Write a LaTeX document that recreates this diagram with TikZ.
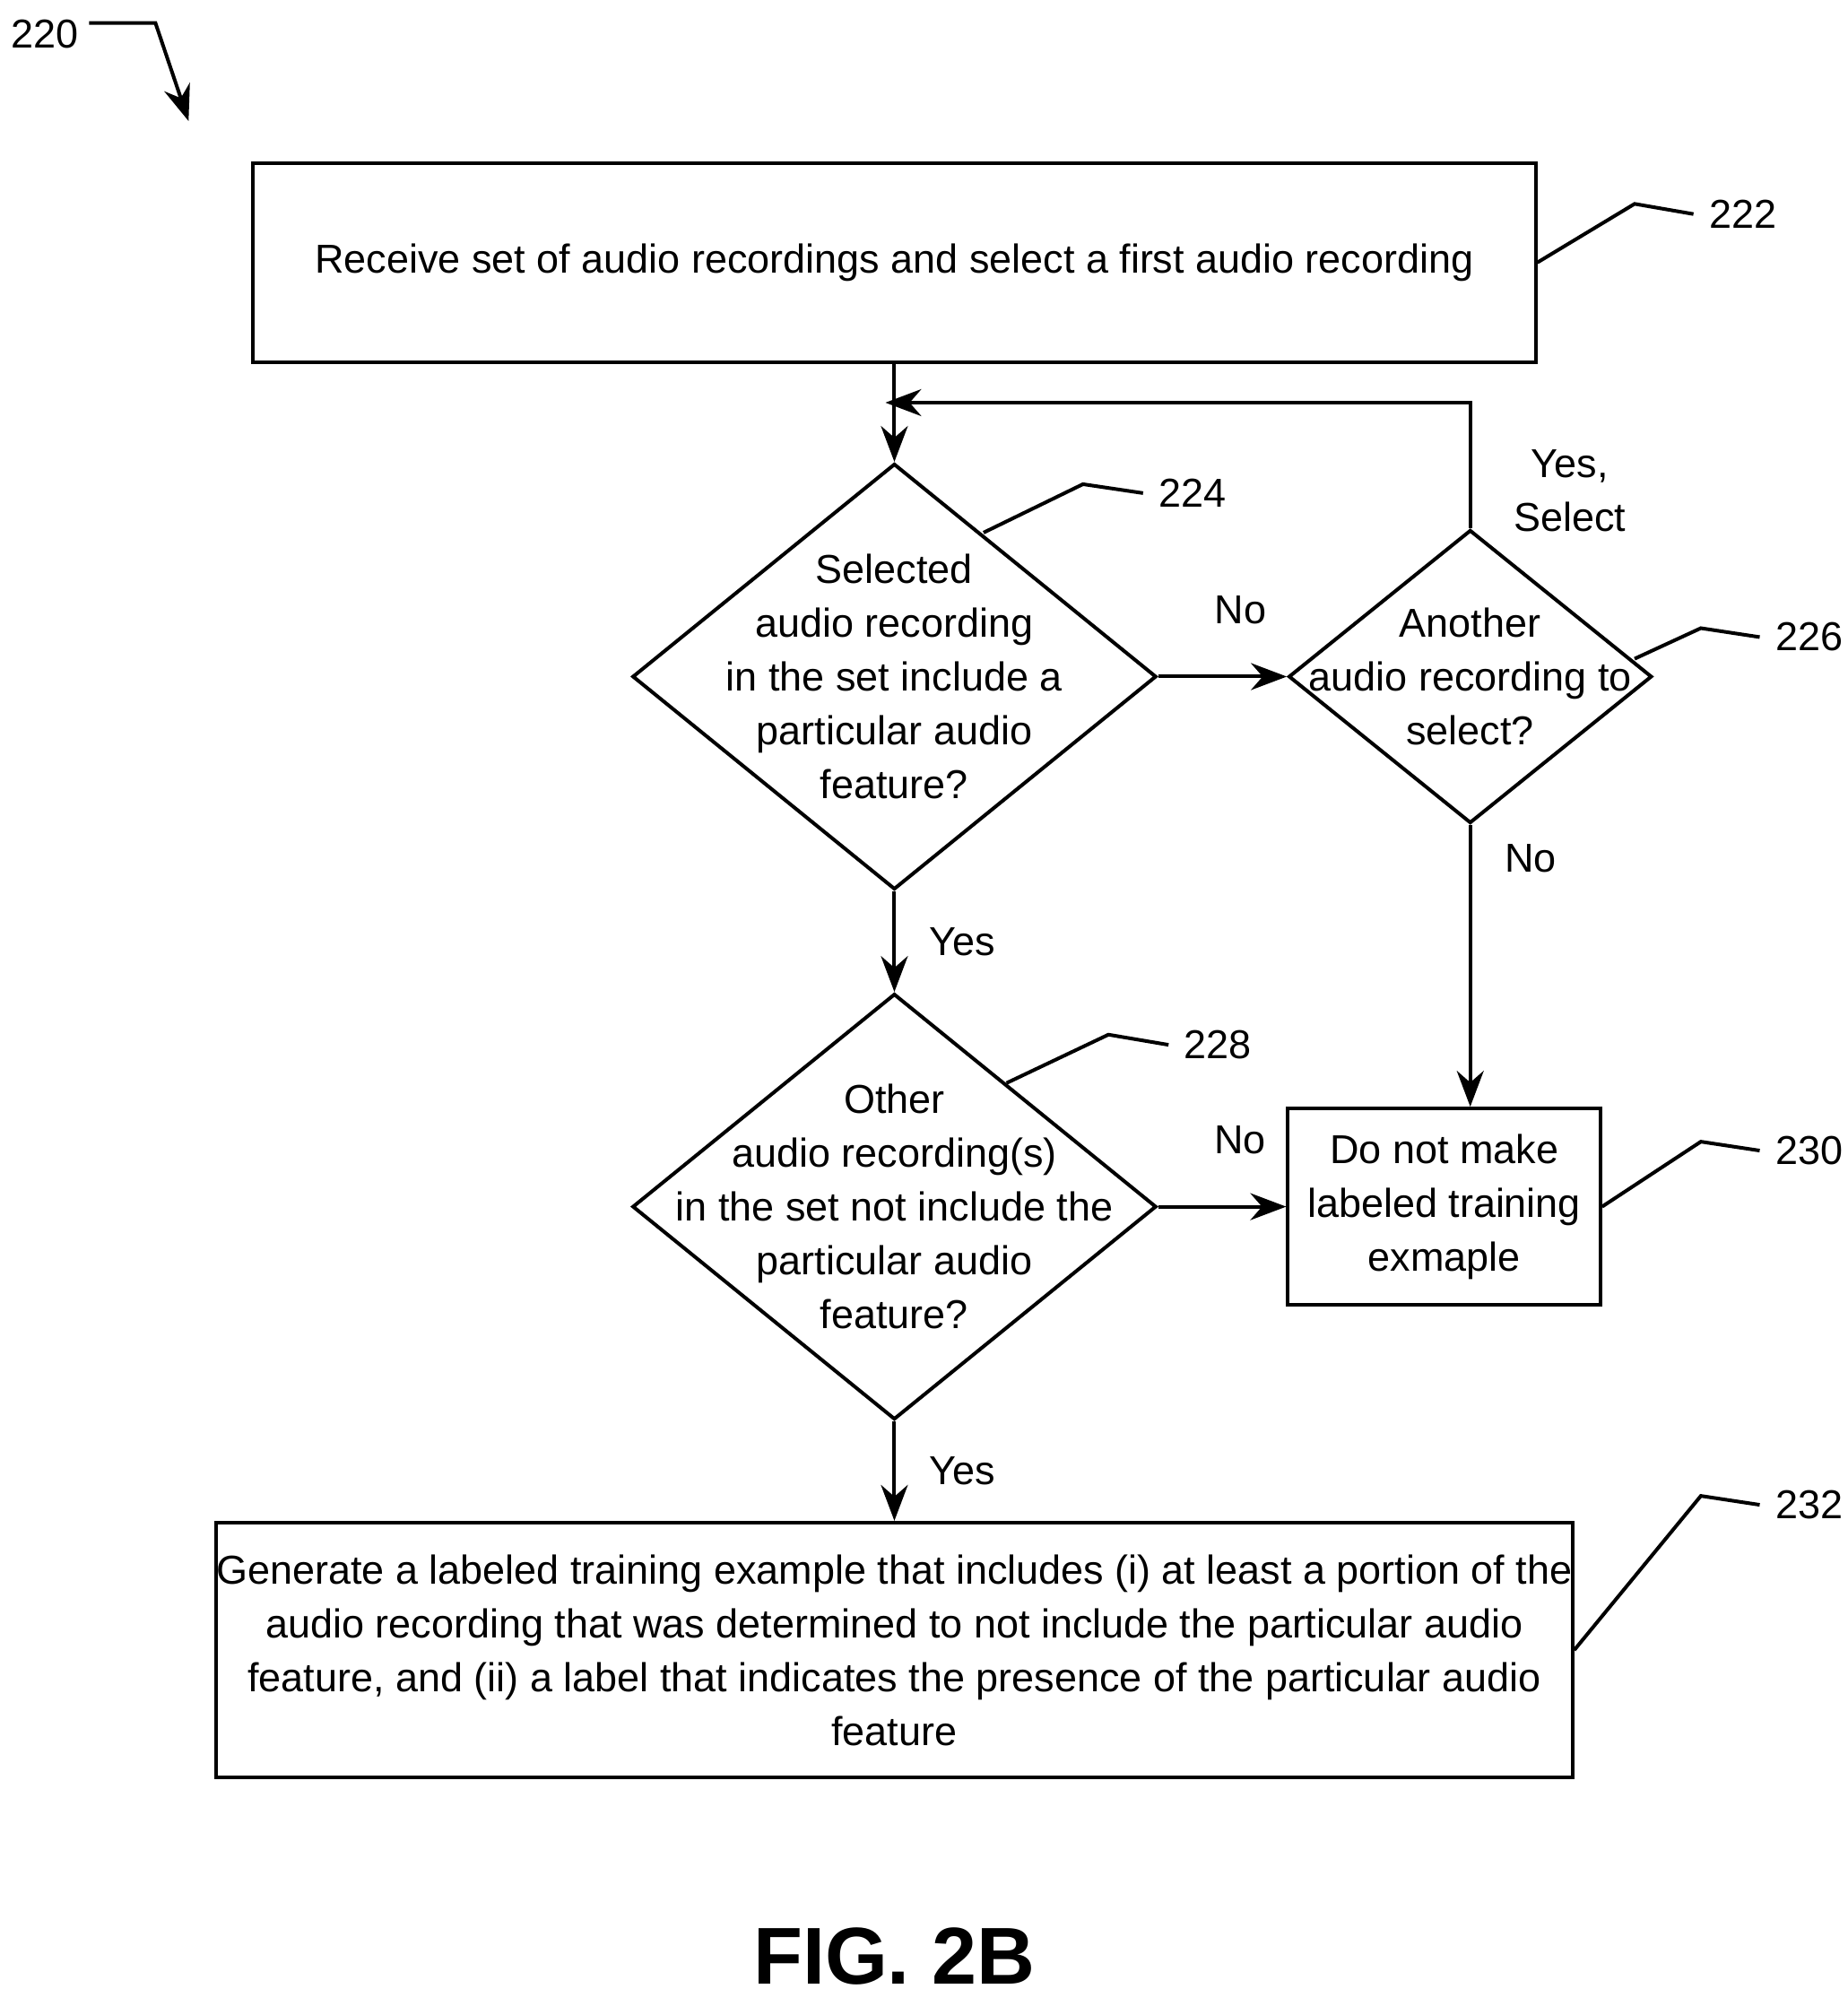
\documentclass[tikz,border=0pt]{standalone}
\usepackage{fontspec}
\setmainfont{Liberation Sans}
\usetikzlibrary{shapes.geometric, arrows.meta, positioning}
\tikzstyle{arrow} = [thick,-{Stealth[length=8pt,width=6pt]}]

\begin{document}
\begin{tikzpicture}[x=0.01cm, y=-0.01cm,
        % boxes and decisions of the flow
        stepbox/.style={draw, thick, font=\fontsize{9}{12}\selectfont, align=center, inner sep=0pt},
        choice/.style={draw, thick, diamond, inner sep=0pt},
        txt/.style={font=\fontsize{9}{12}\selectfont, align=center},
        refnum/.style={font=\fontsize{9}{12}\selectfont},
        lead/.style={thick}
    ]
        \useasboundingbox (0,0) rectangle (1450,1561);

        % --- steps and decisions ---
        \node (receive) [stepbox, minimum width=10.06cm, minimum height=1.56cm] at (702,206)
            {Receive set of audio recordings and select a first audio recording};
        \node (hasfeat) [choice, minimum width=4.11cm, minimum height=3.34cm] at (702,531) {};
        \node[txt] at (hasfeat) {Selected\\audio recording\\in the set include a\\particular audio\\feature?};
        \node (another) [choice, minimum width=2.85cm, minimum height=2.30cm] at (1154,531) {};
        \node[txt] at (another) {Another\\audio recording to\\select?};
        \node (others) [choice, minimum width=4.11cm, minimum height=3.34cm] at (702,947) {};
        \node[txt] at (others) {Other\\audio recording(s)\\in the set not include the\\particular audio\\feature?};
        \node (nomake) [stepbox, minimum width=2.45cm, minimum height=1.54cm] at (1133.5,947)
            {Do not make\\labeled training\\exmaple};
        \node (generate) [stepbox, minimum width=10.06cm, minimum height=2.00cm] at (702,1295)
            {Generate a labeled training example that includes (i) at least a portion of the\\audio recording that was determined to not include the particular audio\\feature, and (ii) a label that indicates the presence of the particular audio\\feature};

        % --- connectors ---
        \coordinate (loop) at (702,316);
        \draw[arrow] (receive) -- (hasfeat);
        \draw[arrow] (hasfeat) -- node[txt, above=8pt, xshift=4pt] {No} (another);
        \draw[thick] (another.north) |- (loop);
        \draw[arrow] (another.north |- loop) -- ([xshift=-2pt]loop);
        \node[txt] at (1232,385) {Yes,\\Select};
        \draw[arrow] (another) -- node[txt, right=4pt, pos=0.12] {No} (another.south |- nomake.north);
        \draw[arrow] (hasfeat) -- node[txt, right=4pt] {Yes} (others);
        \draw[arrow] (others) -- node[txt, above=8pt, xshift=4pt] {No} (nomake);
        \draw[arrow] (others) -- node[txt, right=4pt] {Yes} (generate);

        % --- reference numerals ---
        \node (n222) [refnum] at (1368,168) {222};
        \draw[lead] (receive.east) -- (1283,160) -- (n222.west);
        \node (n224) [refnum] at (936,387) {224};
        \draw[lead] (772,418) -- (850,380) -- (n224.west);
        \node (n226) [refnum] at (1420,500) {226};
        \draw[lead] (1283,517) -- (1335,493) -- (n226.west);
        \node (n228) [refnum] at (956,820) {228};
        \draw[lead] (790,850) -- (870,812) -- (n228.west);
        \node (n230) [refnum] at (1420,903) {230};
        \draw[lead] (nomake.east) -- (1335,896) -- (n230.west);
        \node (n232) [refnum] at (1420,1181) {232};
        \draw[lead] (generate.east) -- (1335,1174) -- (n232.west);

        \node (n220) [refnum] at (35,27) {220};
        \draw[arrow] (70,18) -- (122,18) -- (148,95);

        \node (fig) [font=\bfseries\fontsize{18}{20}\selectfont] at (702,1535) {FIG. 2B};
    \end{tikzpicture}
\end{document}
